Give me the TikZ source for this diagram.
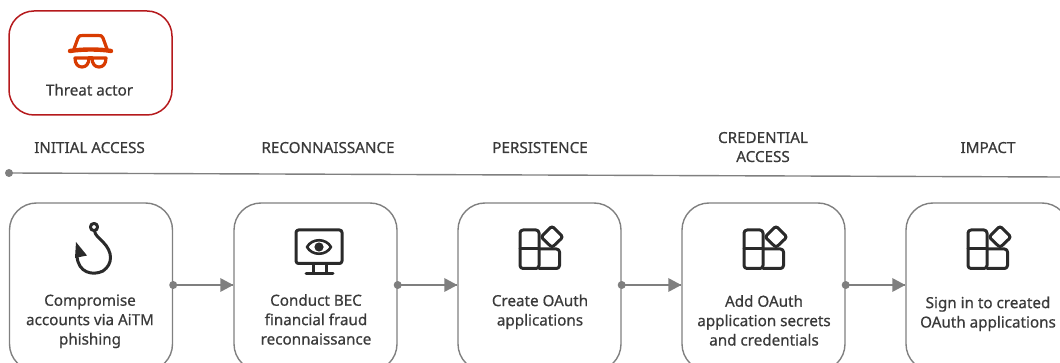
\documentclass[tikz,border=0pt]{standalone}
\usepackage{fontspec}
\setmainfont{Noto Sans}
\definecolor{ink}{HTML}{3A3A3A}
\definecolor{iconink}{HTML}{2A2A2A}
\definecolor{linegray}{HTML}{7F7F7F}
\definecolor{boxgray}{HTML}{808080}
\definecolor{threat}{HTML}{B5191C}
\definecolor{hat}{HTML}{D83B01}
\tikzset{
  stagebox/.style={draw=boxgray,line width=1.4pt,rounded corners=27pt,minimum width=163pt,minimum height=168pt,inner sep=0pt},
  actorbox/.style={draw=threat,line width=1.5pt,rounded corners=25pt,minimum width=163pt,minimum height=104pt,inner sep=0pt},
  phase/.style={text=ink,font=\fontsize{15.2}{19}\selectfont\addfontfeatures{FakeBold=0.6},align=center,inner sep=0pt,anchor=base},
  caption/.style={text=ink,font=\fontsize{15.2}{19.4}\selectfont\addfontfeatures{FakeBold=0.7},align=center,inner sep=0pt,anchor=base},
  icon/.style={draw=iconink,line width=3pt,line join=round,line cap=round},
  hatline/.style={draw=hat,line width=3.2pt,line join=round,line cap=round},
  conn/.style={draw=linegray,line width=1.4pt},
  tipshape/.style={fill=linegray,draw=none},
  dot/.style={circle,fill=linegray,draw=none,minimum size=8pt,inner sep=0pt}
}
\newcommand{\appicon}[1]{%
  \begin{scope}[xshift=#1pt]
    \draw[icon,rounded corners=3pt] (62,249) -- (62,230) -- (81,230) -- (81,268.5) -- (62,268.5) -- cycle;
    \draw[icon] (62,249) -- (81,249);
    \draw[icon,rounded corners=3pt] (81,249) -- (101.5,249) -- (101.5,268.5) -- (81,268.5);
    \draw[icon,rounded corners=2.5pt] (94,226) -- (105,237) -- (94,247.5) -- (83,237) -- cycle;
  \end{scope}}
\begin{document}
\begin{tikzpicture}[x=1pt,y=-1pt]
\useasboundingbox (0,0) rectangle (1060,363);
\clip (0,0) rectangle (1060,363);
% threat actor
\node[actorbox] (actor) at (90.5,63) {};
\node[caption] (actorlabel) at (89.5,95.5) {Threat actor};
\draw[hatline] (74,49) -- (78,38) .. controls (79,35.5) and (80,35.5) .. (83,35.5) -- (98,35.5) .. controls (101,35.5) and (102,35.5) .. (103,38) -- (107,49);
\draw[hatline,line width=4.4pt] (70,51) .. controls (82,49) and (100,49) .. (111,51);
\draw[hatline] (75,58) -- (89,58) .. controls (89,64) and (86,67) .. (82,67) .. controls (78,67) and (75,64) .. (75,58) -- cycle;
\draw[hatline] (92,58) -- (106,58) .. controls (106,64) and (103,67) .. (99,67) .. controls (95,67) and (92,64) .. (92,58) -- cycle;
\draw[hatline] (89,58) -- (92,58);
% phases
\node[phase] (p1) at (89.5,153) {INITIAL ACCESS};
\node[phase] (p2) at (328,153) {RECONNAISSANCE};
\node[phase] (p3) at (540,153) {PERSISTENCE};
\node[phase] (p4) at (763,162) {CREDENTIAL\\ACCESS};
\node[phase] (p5) at (988,153) {IMPACT};
% timeline
\node[dot] (tstart) at (9,173) {};
\coordinate (tend) at (1060,177);
\draw[conn] (tstart.center) -- (tend);
% boxes
\node[stagebox] (a) at (91,287) {};
\node[stagebox] (b) at (315.5,287) {};
\node[stagebox] (c) at (539.5,287) {};
\node[stagebox] (d) at (763.5,287) {};
\node[stagebox] (e) at (987.5,287) {};
% captions
\node[caption] (ta) at (90,344.5) {Compromise\\accounts via AiTM\\phishing};
\node[caption] (tb) at (316,344.5) {Conduct BEC\\financial fraud\\reconnaissance};
\node[caption] (tc) at (540,325.5) {Create OAuth\\applications};
\node[caption] (td) at (764,345.5) {Add OAuth\\application secrets\\and credentials};
\node[caption] (te) at (988,327.5) {Sign in to created\\OAuth applications};
% hook icon
\draw[icon] (94,227) circle (3.6);
\draw[icon] (94.5,231) .. controls (95,235) and (99,238) .. (103,242) .. controls (113,252) and (113,264) .. (103,271) .. controls (93,276) and (78,273) .. (77,256);
\fill[iconink] (76,242) -- (87,255.5) -- (75,258) -- cycle;
% monitor icon
\draw[icon,rounded corners=2.5pt] (296,230) rectangle (342,263.5);
\draw[icon,line width=2.6pt] (307,247) .. controls (312,238) and (326,238) .. (331,247) .. controls (326,256) and (312,256) .. (307,247) -- cycle;
\fill[iconink] (319,247) circle (4.6);
\draw[icon] (313,264) -- (313,273);
\draw[icon] (326.5,264) -- (326.5,273);
\draw[icon] (306,274) -- (333,274);
% app icons
\appicon{458}
\appicon{682}
\appicon{906}
% connectors
\foreach \s/\t in {a/b,b/c,c/d,d/e}{
  \node[dot] (dot\s) at ([yshift=2pt]\s.east) {};
  \coordinate (tip\s) at ([yshift=2pt]\t.west);
  \draw[conn] (dot\s.center) -- (tip\s);
  \fill[tipshape] (tip\s) -- ++(-13,-7) -- ++(0,14) -- cycle;
}
\end{tikzpicture}
\end{document}
